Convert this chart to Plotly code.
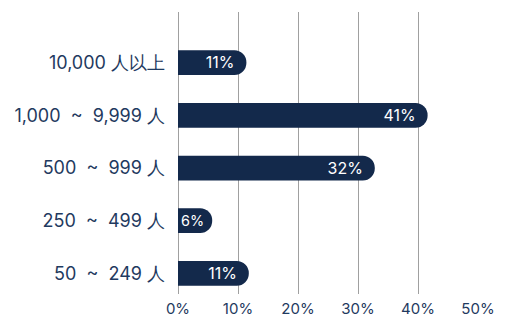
import plotly.graph_objects as go

NB = "\u00a0"
categories = ["50" + NB*2 + "~" + NB*2 + "249 人",
              "250" + NB*2 + "~" + NB*2 + "499 人",
              "500" + NB*2 + "~" + NB*2 + "999 人",
              "1,000" + NB*2 + "~" + NB*2 + "9,999 人",
              "10,000 人以上"]
values = [11.8, 5.7, 32.8, 41.6, 11.4]
labels = ["11%", "6%", "32%", "41%", "11%"]
tick_vals = [0, 10, 20, 30, 40, 50]
tick_text = ["0%", "10%", "20%", "30%", "40%", "50%"]

navy = "#13294b"
grid = "#a0a0a0"

fig = go.Figure(go.Bar(
    x=values,
    y=categories,
    orientation="h",
    marker=dict(color=navy, cornerradius=12, line=dict(width=0)),
    width=0.47,
    text=labels,
    textposition="inside",
    insidetextanchor="end",
    constraintext="none",
    textangle=0,
    textfont=dict(color="white", size=17, family="Inter"),
    hoverinfo="skip",
))

fig.update_layout(
    width=516, height=320,
    margin=dict(l=178, r=38, t=12, b=26),
    paper_bgcolor="white", plot_bgcolor="white",
    showlegend=False,
    xaxis=dict(
        range=[0, 50], tickvals=tick_vals, ticktext=tick_text,
        showgrid=True, gridcolor=grid, gridwidth=1,
        zeroline=True, zerolinecolor=grid, zerolinewidth=1,
        showline=False, automargin=False,
        tickfont=dict(color="#1f3a60", size=15, family="Inter"),
        ticks="", ticklabelstandoff=4, fixedrange=True,
    ),
    yaxis=dict(
        type="category", categoryorder="array", categoryarray=categories,
        range=[-0.39, 4.96], showgrid=False, zeroline=False, showline=False,
        automargin=False,
        tickfont=dict(color="#1f3a60", size=18, family="Inter"),
        ticks="", ticklabelstandoff=12, fixedrange=True,
    ),
)

fig.write_html("out.html")
